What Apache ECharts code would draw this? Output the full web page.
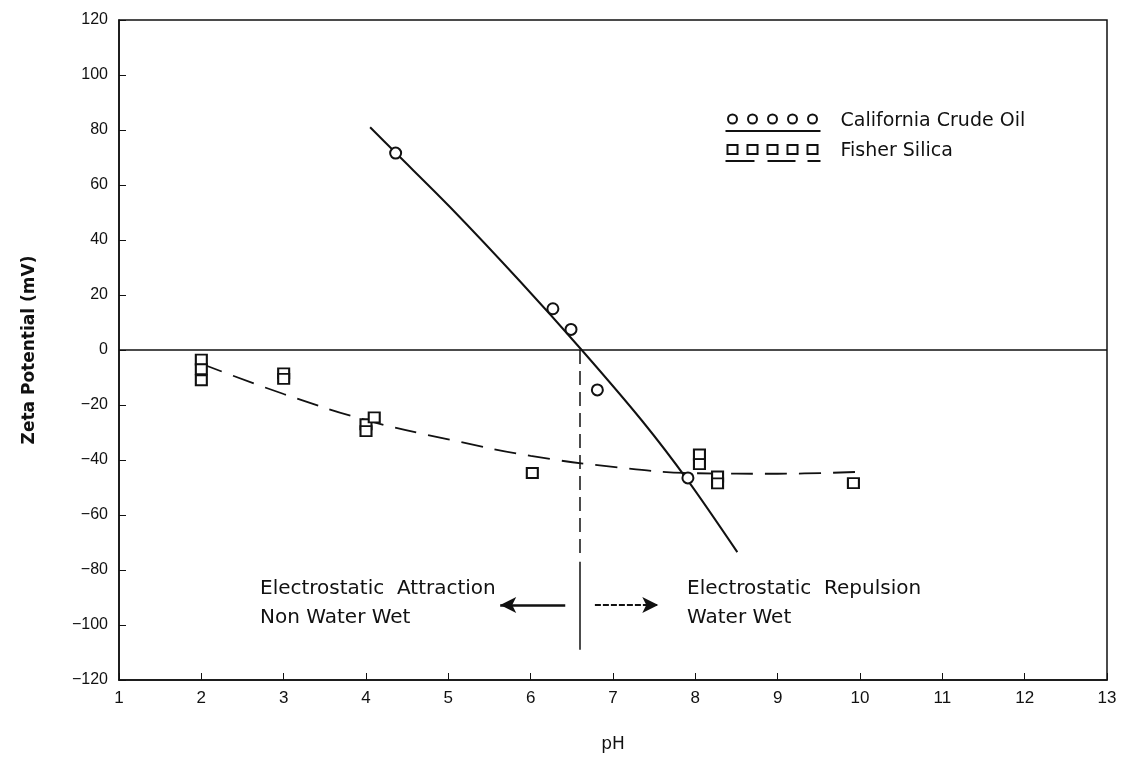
<!DOCTYPE html>
<html>
<head>
<meta charset="utf-8">
<script src="https://cdn.jsdelivr.net/npm/echarts@6/dist/echarts.min.js"></script>
<style>
  html, body { margin: 0; padding: 0; background: #fff; }
  #chart { width: 1126px; height: 758px; }
</style>
</head>
<body>
<div id="chart"></div>
<script>
// measured points (pH, zeta mV)
var oilPoints = [[4.36, 71.6], [6.27, 15], [6.49, 7.5], [6.81, -14.5], [7.91, -46.5]];
var silicaPoints = [
  [2.0, -3.5], [2.0, -7], [2.0, -11],
  [3.0, -8.5], [3.0, -10.5],
  [4.0, -27], [4.0, -29.5], [4.1, -24.5],
  [6.02, -44.7],
  [8.05, -38], [8.05, -41.5], [8.27, -46], [8.27, -48.5],
  [9.92, -48.4]
];
// fitted curves
var oilCurve = [[4.05, 81], [4.36, 71.7], [5.02, 52], [5.87, 25], [6.62, 0],
  [7.36, -26], [7.91, -47.5], [8.51, -73.5]];
var silicaCurve = [[2, -5], [3, -16], [4, -25.5], [5, -32.5], [6, -38.5], [7, -42.5],
  [8, -44.8], [9, -45], [10, -44.3]];
// boundary line and arrows
var boundaryPH = 6.6;
var boundaryDashed = [0, -75];
var boundarySolid = [-77, -109];
var arrowLeft = [[6.42, -92.7], [5.63, -92.7]];
var arrowRight = [[6.78, -92.7], [7.55, -92.7]];

var xTicks = [1, 13, 1];
var yTicks = [-120, 120, 20];

var font = 'Liberation Sans, Arial, sans-serif';
var textFont = 'DejaVu Sans, sans-serif';
var ink = '#111';
var chart = echarts.init(document.getElementById('chart'));

var option = {
  backgroundColor: '#fff',
  animation: false,
  textStyle: { fontFamily: font, color: ink },
  grid: {
    left: 119, right: 19, top: 20, bottom: 77,
    show: true, borderColor: ink, borderWidth: 1.5
  },
  xAxis: {
    type: 'value', min: xTicks[0], max: xTicks[1], interval: xTicks[2],
    name: 'pH', nameLocation: 'middle', nameGap: 56,
    nameTextStyle: { fontSize: 17, fontFamily: textFont, color: ink },
    axisLine: { onZero: false, lineStyle: { color: ink, width: 1.5 } },
    axisTick: { inside: true, length: 7, lineStyle: { color: ink } },
    axisLabel: { fontSize: 17, fontFamily: font, color: ink, margin: 10 },
    splitLine: { show: false }
  },
  yAxis: {
    type: 'value', min: yTicks[0], max: yTicks[1], interval: yTicks[2],
    name: 'Zeta Potential (mV)', nameLocation: 'middle', nameGap: 81,
    nameTextStyle: { fontSize: 17, fontFamily: textFont, fontWeight: 'bold', color: ink },
    axisLine: { show: true, lineStyle: { color: ink, width: 1.5 } },
    axisTick: { inside: true, length: 7, lineStyle: { color: ink } },
    axisLabel: {
      fontSize: 16, fontFamily: font, color: ink, margin: 11,
      formatter: function (v) { return v < 0 ? '\u2212' + Math.abs(v) : String(v); }
    },
    splitLine: { show: false }
  },
  series: [
    {
      name: 'California Crude Oil curve', type: 'line', data: oilCurve, smooth: 0.3,
      showSymbol: false, lineStyle: { color: ink, width: 2 },
      markLine: {
        silent: true, symbol: 'none', label: { show: false },
        lineStyle: { color: ink, width: 1.5, type: 'solid' },
        data: [{ yAxis: 0 }]
      }
    },
    {
      name: 'Fisher Silica curve', type: 'line', data: silicaCurve, smooth: 0.4,
      showSymbol: false, lineStyle: { color: ink, width: 1.8, type: [22, 12] }
    },
    {
      name: 'California Crude Oil', type: 'scatter', data: oilPoints,
      symbol: 'circle', symbolSize: 11,
      itemStyle: { color: '#fff', borderColor: ink, borderWidth: 2, opacity: 1 }, z: 5
    },
    {
      name: 'Fisher Silica', type: 'scatter', data: silicaPoints,
      symbol: 'rect', symbolSize: [11, 10],
      itemStyle: { color: '#fff', borderColor: ink, borderWidth: 2, opacity: 1 }, z: 5
    },
    {
      name: 'annotations', type: 'line', data: [],
      markLine: {
        silent: true, symbol: 'none', label: { show: false },
        data: [
          [{ coord: [boundaryPH, boundaryDashed[0]], lineStyle: { color: ink, width: 1.5, type: [14, 7] } },
           { coord: [boundaryPH, boundaryDashed[1]] }],
          [{ coord: [boundaryPH, boundarySolid[0]], lineStyle: { color: ink, width: 1.5, type: 'solid' } },
           { coord: [boundaryPH, boundarySolid[1]] }],
          [{ coord: arrowLeft[0], symbol: 'none', lineStyle: { color: ink, width: 2.5, type: 'solid' } },
           { coord: arrowLeft[1], symbol: 'arrow', symbolSize: [12, 16] }],
          [{ coord: arrowRight[0], symbol: 'none', lineStyle: { color: ink, width: 2, type: [6, 2] } },
           { coord: arrowRight[1], symbol: 'arrow', symbolSize: [12, 16] }]
        ]
      }
    }
  ],
  graphic: [
    // legend
    { type: 'group', left: 723, top: 112, children: [
      { type: 'circle', shape: { cx: 7, cy: 8, r: 4.5 }, style: { fill: '#fff', stroke: ink, lineWidth: 2 } },
      { type: 'circle', shape: { cx: 27, cy: 8, r: 4.5 }, style: { fill: '#fff', stroke: ink, lineWidth: 2 } },
      { type: 'circle', shape: { cx: 47, cy: 8, r: 4.5 }, style: { fill: '#fff', stroke: ink, lineWidth: 2 } },
      { type: 'circle', shape: { cx: 67, cy: 8, r: 4.5 }, style: { fill: '#fff', stroke: ink, lineWidth: 2 } },
      { type: 'circle', shape: { cx: 87, cy: 8, r: 4.5 }, style: { fill: '#fff', stroke: ink, lineWidth: 2 } },
      { type: 'line', shape: { x1: 0, y1: 20, x2: 95, y2: 20 }, style: { stroke: ink, lineWidth: 2 } },
      { type: 'rect', shape: { x: 2, y: 34, width: 10, height: 9 }, style: { fill: '#fff', stroke: ink, lineWidth: 2 } },
      { type: 'rect', shape: { x: 22, y: 34, width: 10, height: 9 }, style: { fill: '#fff', stroke: ink, lineWidth: 2 } },
      { type: 'rect', shape: { x: 42, y: 34, width: 10, height: 9 }, style: { fill: '#fff', stroke: ink, lineWidth: 2 } },
      { type: 'rect', shape: { x: 62, y: 34, width: 10, height: 9 }, style: { fill: '#fff', stroke: ink, lineWidth: 2 } },
      { type: 'rect', shape: { x: 82, y: 34, width: 10, height: 9 }, style: { fill: '#fff', stroke: ink, lineWidth: 2 } },
      { type: 'line', shape: { x1: 0, y1: 50, x2: 29, y2: 50 }, style: { stroke: ink, lineWidth: 2 } },
      { type: 'line', shape: { x1: 42, y1: 50, x2: 70, y2: 50 }, style: { stroke: ink, lineWidth: 2 } },
      { type: 'line', shape: { x1: 82, y1: 50, x2: 95, y2: 50 }, style: { stroke: ink, lineWidth: 2 } },
      { type: 'text', x: 115, y: 1, style: { text: 'California Crude Oil', fontSize: 19, fontFamily: textFont, fill: ink } },
      { type: 'text', x: 115, y: 31, style: { text: 'Fisher Silica', fontSize: 19, fontFamily: textFont, fill: ink } }
    ] },
    // region labels
    { type: 'text', left: 260, top: 574, style: { text: 'Electrostatic  Attraction\nNon Water Wet', fontSize: 20, lineHeight: 29, fontFamily: textFont, fill: ink } },
    { type: 'text', left: 687, top: 574, style: { text: 'Electrostatic  Repulsion\nWater Wet', fontSize: 20, lineHeight: 29, fontFamily: textFont, fill: ink } }
  ]
};

chart.setOption(option);
</script>
</body>
</html>
